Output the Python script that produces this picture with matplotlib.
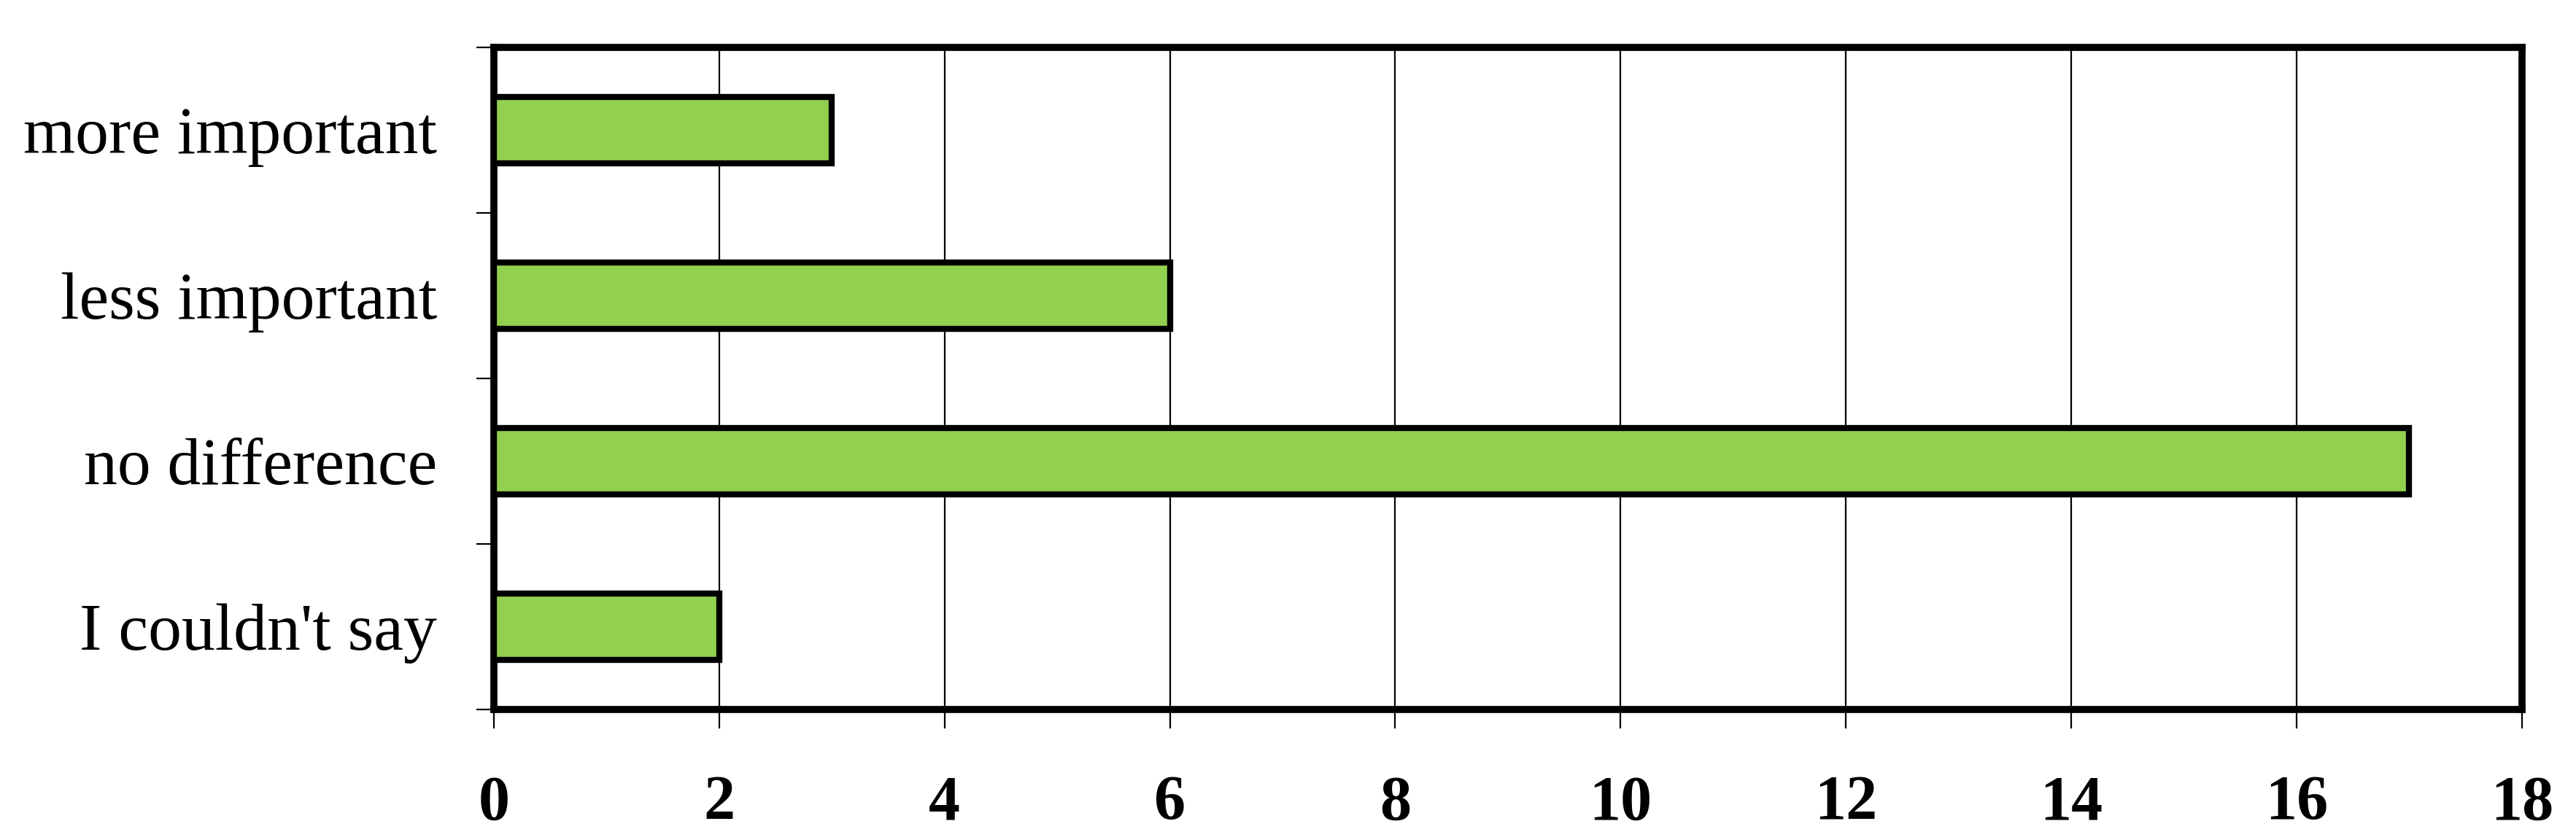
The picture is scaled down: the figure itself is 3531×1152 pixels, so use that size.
import matplotlib
matplotlib.use("Agg")
import matplotlib.pyplot as plt
import numpy as np

# survey answers, listed bottom to top as drawn
categories = ["I couldn't say", "no difference", "less important", "more important"]
counts = [2, 17, 6, 3]
x_ticks = [0, 2, 4, 6, 8, 10, 12, 14, 16, 18]

plt.rcParams['font.family'] = ['Liberation Serif', 'DejaVu Serif']

fig = plt.figure(figsize=(35.31, 11.52), dpi=100)
ax = fig.add_axes([0.1917, 0.1554, 0.7873, 0.7882])

y = np.arange(len(categories))
ax.barh(y, counts, height=0.4, color="#92D050", edgecolor="black", linewidth=6, zorder=3)

ax.set_xlim(0, 18)
ax.set_ylim(-0.5, len(categories) - 0.5)

# vertical grid lines
ax.set_xticks(x_ticks)
ax.set_xticklabels([str(t) for t in x_ticks], fontsize=62, fontweight="bold")
ax.xaxis.grid(True, color="black", linewidth=1.6, zorder=0)
ax.set_axisbelow(True)
ax.tick_params(axis="x", direction="out", length=19, width=1.6, pad=46)

# category labels at centres, tick marks at band boundaries
ax.set_yticks(y)
ax.set_yticklabels(categories, fontsize=66)
ax.set_yticks(np.arange(-0.5, len(categories), 1.0), minor=True)
ax.tick_params(axis="y", which="major", length=0, pad=56)
ax.tick_params(axis="y", which="minor", direction="out", length=17, width=1.6)

for s in ax.spines.values():
    s.set_linewidth(7)
    s.set_color("black")

fig.savefig("out.png", dpi=100)
